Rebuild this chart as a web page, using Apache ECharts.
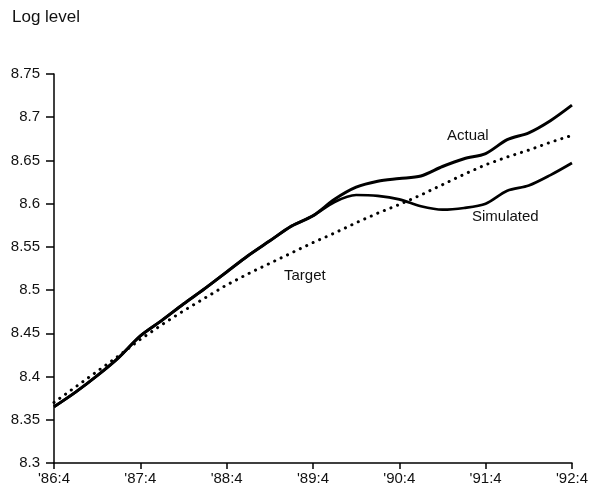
<!DOCTYPE html>
<html>
<head>
<meta charset="utf-8">
<script src="https://cdn.jsdelivr.net/npm/echarts@6/dist/echarts.min.js"></script>
<style>
html,body{margin:0;padding:0;background:#fff;}
#c{width:591px;height:490px;}
</style>
</head>
<body>
<div id="c"></div>
<script>
const quarters = ["'86:4","'87:1","'87:2","'87:3","'87:4","'88:1","'88:2","'88:3","'88:4","'89:1","'89:2","'89:3","'89:4","'90:1","'90:2","'90:3","'90:4","'91:1","'91:2","'91:3","'91:4","'92:1","'92:2","'92:3","'92:4"];
const actual = [8.365,8.382,8.401,8.422,8.447,8.465,8.484,8.502,8.521,8.540,8.557,8.574,8.586,8.605,8.619,8.626,8.629,8.632,8.643,8.652,8.658,8.674,8.682,8.696,8.714];
const simulated = [8.365,8.382,8.401,8.422,8.447,8.465,8.484,8.502,8.521,8.540,8.557,8.574,8.586,8.602,8.610,8.609,8.605,8.597,8.593,8.595,8.600,8.615,8.621,8.633,8.647];
const target = [8.370,8.388,8.406,8.424,8.443,8.460,8.476,8.491,8.506,8.519,8.531,8.543,8.555,8.566,8.578,8.589,8.599,8.610,8.622,8.634,8.645,8.654,8.662,8.671,8.679];
const yTicks = {min: 8.3, max: 8.75, step: 0.05};

const chart = echarts.init(document.getElementById('c'), null, {renderer: 'canvas'});
const FONT = 'Liberation Sans, Arial, sans-serif';
chart.setOption({
  animation: false,
  backgroundColor: '#fff',
  grid: {left: 54, right: 16, top: 74, bottom: 27, containLabel: false},
  xAxis: {
    type: 'category',
    data: quarters,
    boundaryGap: false,
    axisLine: {lineStyle: {color: '#000', width: 1.5}},
    axisTick: {interval: 3, length: 6, lineStyle: {color: '#000', width: 1.5}},
    axisLabel: {interval: 3, color: '#111', fontFamily: FONT, fontSize: 15, margin: 8},
    splitLine: {show: false}
  },
  yAxis: {
    type: 'value',
    min: yTicks.min, max: yTicks.max, interval: yTicks.step,
    axisLine: {show: true, lineStyle: {color: '#000', width: 1.5}},
    axisTick: {show: true, length: 8, lineStyle: {color: '#000', width: 1.5}},
    axisLabel: {color: '#111', fontFamily: FONT, fontSize: 15, margin: 14,
      formatter: v => String(Math.round(v * 100) / 100)},
    splitLine: {show: false}
  },
  series: [
    {name: 'Target', type: 'line', data: target, symbol: 'none', smooth: false,
      lineStyle: {color: '#000', width: 3, type: [0.1, 7], cap: 'round'}},
    {name: 'Simulated', type: 'line', data: simulated, symbol: 'none', smooth: 0.3,
      lineStyle: {color: '#000', width: 2.7}},
    {name: 'Actual', type: 'line', data: actual, symbol: 'none', smooth: 0.3,
      lineStyle: {color: '#000', width: 3}}
  ],
  graphic: [
    {type: 'text', left: 12, top: 9, style: {text: 'Log level', font: '17px ' + FONT, fill: '#111'}},
    {type: 'text', left: 447, top: 128, style: {text: 'Actual', font: '15px ' + FONT, fill: '#111'}},
    {type: 'text', left: 472, top: 209, style: {text: 'Simulated', font: '15px ' + FONT, fill: '#111'}},
    {type: 'text', left: 284, top: 268, style: {text: 'Target', font: '15px ' + FONT, fill: '#111'}}
  ]
});
</script>
</body>
</html>
